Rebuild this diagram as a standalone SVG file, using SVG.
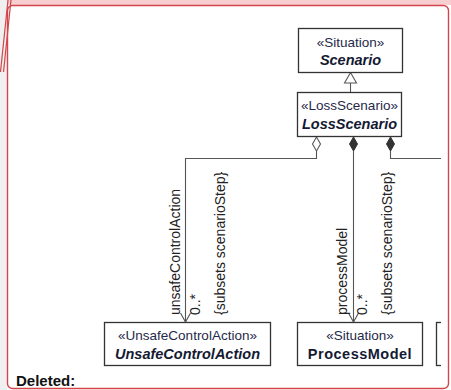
<svg xmlns="http://www.w3.org/2000/svg" width="451" height="390" viewBox="0 0 451 390">
  <style>
    .box { fill: #ffffff; stroke: #333333; stroke-width: 1.3; }
    .st { font-family: "Liberation Sans", Arial, sans-serif; font-size: 13.5px; fill: #1f2a4a; text-anchor: middle; }
    .nm { font-family: "Liberation Sans", Arial, sans-serif; font-size: 14.5px; font-weight: bold; fill: #141a33; text-anchor: middle; }
    .it { font-style: italic; }
    .edge { fill: none; stroke: #555555; stroke-width: 1.1; }
    .lbl { font-family: "Liberation Sans", Arial, sans-serif; font-size: 14px; fill: #222222; }
    .frame { fill: none; stroke: #d2454a; stroke-width: 1.4; }
  </style>
  <defs>
    <marker id="open" markerWidth="12" markerHeight="12" refX="9" refY="5" orient="auto" markerUnits="userSpaceOnUse">
      <path d="M0,0 L9,5 L0,10" fill="none" stroke="#555555" stroke-width="1.1"/>
    </marker>
    <clipPath id="content">
      <rect x="8" y="6" width="433" height="380"/>
    </clipPath>
  </defs>

  <!-- page background and comment frame -->
  <rect x="0" y="0" width="451" height="390" fill="#f0f0f0"/>
  <rect x="7" y="0" width="444" height="390" fill="#ffffff"/>
  <rect x="7" y="0" width="444" height="5" fill="#f7cfd0"/>
  <path d="M8,0 L0.5,72" stroke="#d2454a" stroke-width="1.2" fill="none"/>
  <path d="M11,0 L3.5,72" stroke="#d2454a" stroke-width="1.2" fill="none"/>
  <rect class="frame" x="7.5" y="5.5" width="441" height="383" rx="5"/>

  <g clip-path="url(#content)">
    <!-- connectors -->
    <g id="connectors">
      <!-- generalization LossScenario -> Scenario -->
      <line class="edge" x1="350.5" y1="83" x2="350.5" y2="92"/>
      <path d="M344.5,83 L350.5,72.5 L356.5,83 Z" fill="#ffffff" stroke="#555555" stroke-width="1.1"/>

      <!-- shared aggregation to UnsafeControlAction -->
      <path d="M316.5,137 L320.5,144 L316.5,151 L312.5,144 Z" fill="#ffffff" stroke="#555555" stroke-width="1.1"/>
      <path class="edge" d="M316.5,151 L316.5,158.5 L185.5,158.5 L185.5,322" marker-end="url(#open)"/>

      <!-- composition to ProcessModel -->
      <path d="M353.5,137 L357.5,144 L353.5,151 L349.5,144 Z" fill="#333333" stroke="#333333" stroke-width="1"/>
      <path class="edge" d="M353.5,151 L353.5,322" marker-end="url(#open)"/>

      <!-- composition to the right -->
      <path d="M390.5,137 L394.5,144 L390.5,151 L386.5,144 Z" fill="#333333" stroke="#333333" stroke-width="1"/>
      <path class="edge" d="M390.5,151 L390.5,158.5 L445,158.5"/>

      <!-- association end labels -->
      <text class="lbl" transform="translate(180,315) rotate(-90)">unsafeControlAction</text>
      <text class="lbl" transform="translate(200,315) rotate(-90)">0..*</text>
      <text class="lbl" transform="translate(225,315) rotate(-90)">{subsets scenarioStep}</text>
      <text class="lbl" transform="translate(347,315) rotate(-90)">processModel</text>
      <text class="lbl" transform="translate(367,315) rotate(-90)">0..*</text>
      <text class="lbl" transform="translate(392,315) rotate(-90)">{subsets scenarioStep}</text>
    </g>

    <g id="Scenario">
      <rect class="box" x="298.5" y="28.5" width="104" height="44"/>
      <text class="st" x="350.5" y="46.5">«Situation»</text>
      <text class="nm it" x="350.5" y="65">Scenario</text>
    </g>

    <g id="LossScenario">
      <rect class="box" x="297.5" y="92.5" width="104" height="44"/>
      <text class="st" x="349.5" y="110">«LossScenario»</text>
      <text class="nm it" x="349.5" y="129">LossScenario</text>
    </g>

    <g id="UnsafeControlAction">
      <rect class="box" x="104.5" y="322.5" width="166" height="43"/>
      <text class="st" x="187.5" y="339.5">«UnsafeControlAction»</text>
      <text class="nm it" x="187.5" y="358.5">UnsafeControlAction</text>
    </g>

    <g id="ProcessModel">
      <rect class="box" x="297.5" y="322.5" width="125" height="43"/>
      <text class="st" x="360" y="339.5">«Situation»</text>
      <text class="nm" x="360" y="358.5" letter-spacing="0.5">ProcessModel</text>
    </g>

    <g id="NextElement">
      <rect class="box" x="436.5" y="322.5" width="40" height="43"/>
    </g>
  </g>

  <text x="16" y="386" font-family="'Liberation Sans', Arial, sans-serif" font-size="15" font-weight="bold" fill="#111111">Deleted:</text>
</svg>
